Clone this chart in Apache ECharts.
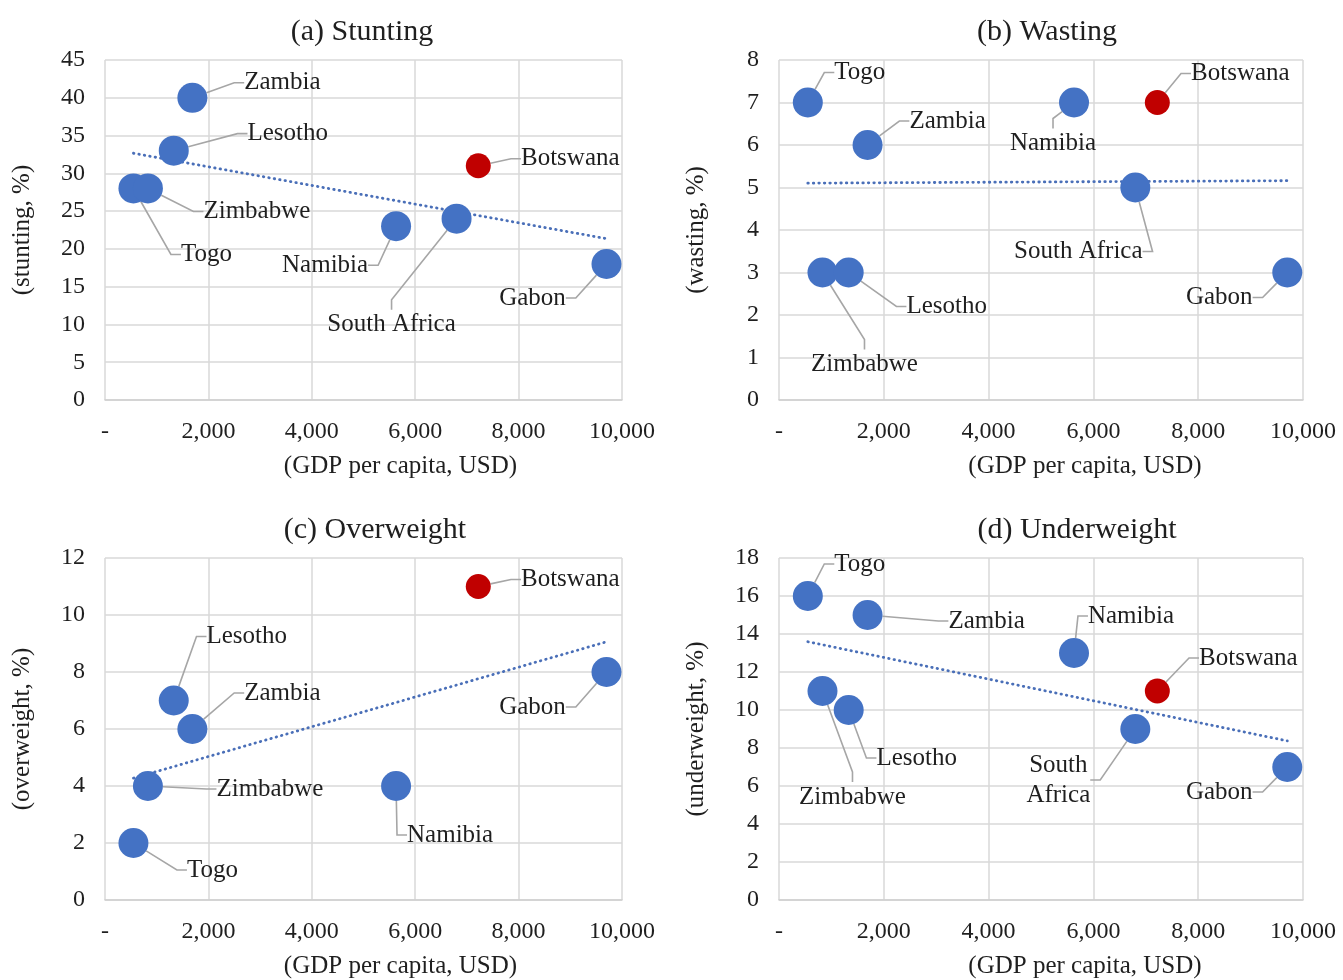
<!DOCTYPE html>
<html><head><meta charset="utf-8">
<script src="https://cdn.jsdelivr.net/npm/echarts@6/dist/echarts.min.js"></script>
<style>html,body{margin:0;padding:0;background:#fff}#c{width:1343px;height:980px}</style>
</head><body><div id="c"></div>
<script>
// ---- data ----
var countries = ['Togo','Zimbabwe','Lesotho','Zambia','Namibia','South Africa','Botswana','Gabon'];
var gdp       = [550, 830, 1330, 1690, 5630, 6800, 7220, 9700];
var stunting    = [28, 28, 33, 40, 23, 24, 31, 18];
var wasting     = [7, 3, 3, 6, 7, 5, 7, 3];
var overweight  = [2, 4, 7, 6, 4, null, 11, 8];
var underweight = [16, 11, 10, 15, 13, 9, 11, 7];
var panelTitles = ['(a) Stunting','(b) Wasting','(c) Overweight','(d) Underweight'];
var yNames = ['(stunting, %)','(wasting, %)','(overweight, %)','(underweight, %)'];
var xName = '(GDP per capita, USD)';
var yMax = [45, 8, 12, 18];
var yStep = [5, 1, 2, 2];
var xMax = 10000, xStep = 2000;
var highlight = 'Botswana';

// ---- label offsets (style only, px relative to the marker) ----
var labelOffsets = [
  {'Togo':[73,66],'Zimbabwe':[109,23],'Lesotho':[114,-17],'Zambia':[90,-15],'Namibia':[-71,39],'South Africa':[-65,106],'Botswana':[92,-7],'Gabon':[-74,34]},
  {'Togo':[52,-30],'Zimbabwe':[42,92],'Lesotho':[98,34],'Zambia':[80,-24],'Namibia':[-21,41],'South Africa':[-57,64],'Botswana':[83,-29],'Gabon':[-68,25]},
  {'Togo':[79,27],'Zimbabwe':[122,3],'Lesotho':[73,-64],'Zambia':[90,-36],'Namibia':[54,49],'Botswana':[92,-7],'Gabon':[-74,35]},
  {'Togo':[52,-32],'Zimbabwe':[30,106],'Lesotho':[68,48],'Zambia':[119,6],'Namibia':[57,-37],'South Africa':[-77,51],'Botswana':[91,-33],'Gabon':[-68,25]}
];
var labelText = {'South Africa': ['South Africa','South Africa','South Africa','South\nAfrica']};

var FONT = 'Liberation Serif, Times New Roman, serif';
var TXT = '#1f1f1f';
var BLUE = '#4472C4', RED = '#C00000';
var grids = [
  {left:105, top:60, width:517, height:340},
  {left:779, top:60, width:524, height:340},
  {left:105, top:558, width:517, height:342},
  {left:779, top:558, width:524, height:342}
];
var titlePos = [[357,12],[1042,12],[370,510],[1072,510]];
var xNamePad = [74, 88, 74, 88];
var panels = [stunting, wasting, overweight, underweight];

function trend(vals){
  var xs=[], ys=[];
  for (var i=0;i<gdp.length;i++){ if (vals[i]!=null){ xs.push(gdp[i]); ys.push(vals[i]); } }
  var n=xs.length, mx=0, my=0;
  xs.forEach(function(v){mx+=v}); ys.forEach(function(v){my+=v}); mx/=n; my/=n;
  var sxy=0,sxx=0;
  for (var j=0;j<n;j++){ sxy+=(xs[j]-mx)*(ys[j]-my); sxx+=(xs[j]-mx)*(xs[j]-mx); }
  var b=sxy/sxx, a=my-b*mx;
  var x0=Math.min.apply(null,xs), x1=Math.max.apply(null,xs);
  return [[x0,a+b*x0],[x1,a+b*x1]];
}

var option = {
  animation:false,
  backgroundColor:'#fff',
  textStyle:{fontFamily:FONT},
  title: panelTitles.map(function(t,i){
    return {text:t, left:titlePos[i][0], top:titlePos[i][1], textAlign:'center',
      textStyle:{fontFamily:FONT, fontSize:30, fontWeight:'normal', color:TXT}};
  }),
  grid: grids,
  xAxis: grids.map(function(g,i){
    return {type:'value', gridIndex:i, min:0, max:xMax, interval:xStep,
      name:xName, nameLocation:'middle', nameGap:54,
      nameTextStyle:{fontFamily:FONT, fontSize:25, color:TXT, padding:[0,0,0,xNamePad[i]]},
      axisLine:{show:true, lineStyle:{color:'#cfcfcf', width:1.5}},
      axisTick:{show:false},
      axisLabel:{fontFamily:FONT, fontSize:24, color:TXT, margin:20,
        formatter:function(v){ return v===0 ? '-' : v.toLocaleString('en-US'); }},
      splitLine:{show:true, lineStyle:{color:'#d9d9d9', width:1.5}}};
  }),
  yAxis: grids.map(function(g,i){
    return {type:'value', gridIndex:i, min:0, max:yMax[i], interval:yStep[i],
      name:yNames[i], nameLocation:'middle', nameGap:70, nameRotate:90,
      nameTextStyle:{fontFamily:FONT, fontSize:25, color:TXT},
      axisLine:{show:false}, axisTick:{show:false},
      axisLabel:{fontFamily:FONT, fontSize:24, color:TXT, margin:20},
      splitLine:{show:true, lineStyle:{color:'#d9d9d9', width:1.5}}};
  }),
  series: []
};

panels.forEach(function(vals, p){
  var data=[];
  for (var i=0;i<countries.length;i++){
    if (vals[i]==null) continue;
    var isH = countries[i]===highlight;
    data.push({name:countries[i], value:[gdp[i], vals[i]],
      symbolSize: isH ? 25 : 30,
      itemStyle:{color: isH ? RED : BLUE, opacity:1}});
  }
  option.series.push({
    type:'line', xAxisIndex:p, yAxisIndex:p, data:trend(vals), symbol:'none', silent:true, z:1,
    lineStyle:{color:'#4a6fb8', width:2.8, type:[0.5,5], cap:'round'}
  });
  option.series.push({
    type:'scatter', xAxisIndex:p, yAxisIndex:p, data:data, z:3,
    label:{show:true, position:'inside', fontFamily:FONT, fontSize:25, color:TXT, lineHeight:30,
      textBorderWidth:0,
      formatter:function(prm){ var t=labelText[prm.name]; return t ? t[p] : prm.name; }},
    labelLine:{show:true, length2:10, lineStyle:{color:'#a6a6a6', width:1.6}},
    labelLayout:function(prm){
      var nm = data[prm.dataIndex].name;
      var o = labelOffsets[p][nm] || [0,0];
      return {dx:o[0], dy:o[1]};
    }
  });
});

var chart = echarts.init(document.getElementById('c'), null, {renderer:'canvas'});
chart.setOption(option);
</script></body></html>
